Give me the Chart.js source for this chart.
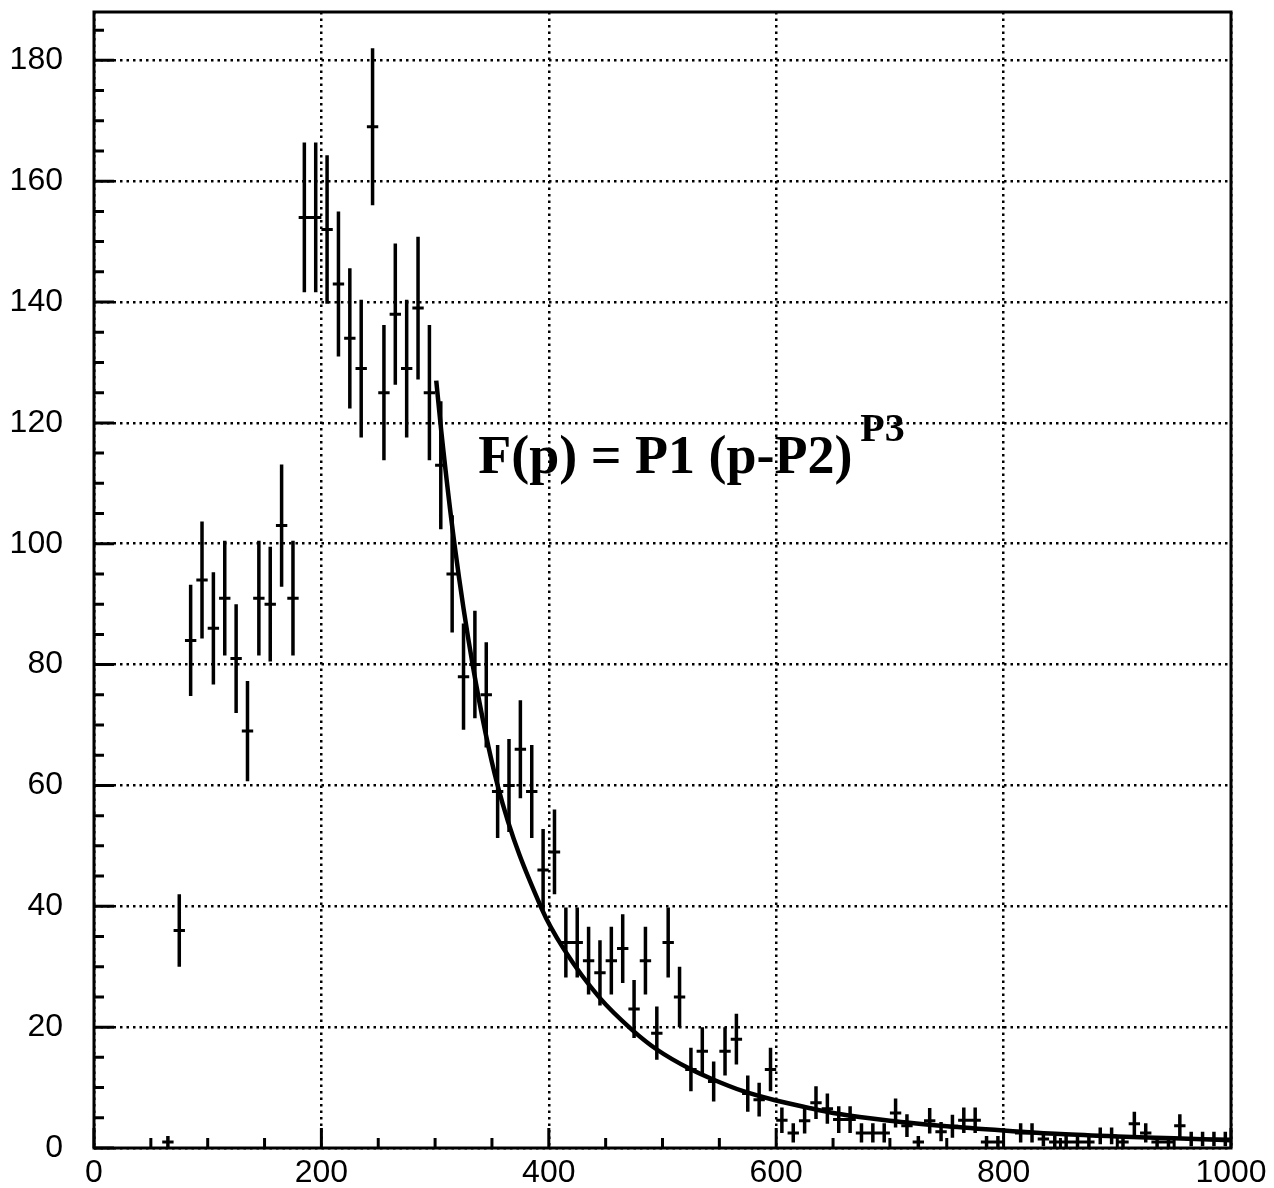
<!DOCTYPE html>
<html>
<head>
<meta charset="utf-8">
<script src="https://cdn.jsdelivr.net/npm/chart.js@4.4.0/dist/chart.umd.min.js"></script>
<style>
html,body{margin:0;padding:0;background:#fff;}
#wrap{position:relative;width:1274px;height:1188px;}
</style>
</head>
<body>
<div id="wrap"><canvas id="c"></canvas></div>
<script>
// ---- data ----
const binCenters = [65,75,85,95,105,115,125,135,145,155,165,175,
  185,195,205,215,225,235,245,255,265,275,285,295,305,315,325,335,345,355,365,375,385,395,405,
  415,425,435,445,455,465,475,485,495,505,515,525,535,545,555,565,575,585,595,
  605,615,625,635,645,655,665,675,685,695,705,715,725,735,745,755,765,775,785,795,
  815,825,835,845,855,865,875,885,895,905,915,925,935,945,955,965,975,985,995];
const counts = [1,36,84,94,86,91,81,69,91,90,103,91,
  154,154,152,143,134,129,169,125,138,129,139,125,113,95,78,80,75,59,60,66,59,46,49,
  34,34,31,29,31,33,23,31,19,34,25,13,16,11,16,18,9,8,13,
  4.6,2.5,4.5,7.5,6.5,4.7,4.7,2.5,2.5,2.5,5.8,3.7,1,4.5,2.7,3.6,4.6,4.6,1,1,
  2.5,2.5,1.5,1,1,1,1,2,2,1,4,2.5,1,1,3.7,1.5,1.5,1.5,1.5];
const errors = [1,6,9.2,9.7,9.3,9.5,9,8.3,9.5,9.5,10.1,9.5,
  12.4,12.4,12.3,12,11.6,11.4,13,11.2,11.7,11.4,11.8,11.2,10.6,9.7,8.8,8.9,8.7,7.7,7.7,8.1,7.7,6.8,7,
  5.8,5.8,5.6,5.4,5.6,5.7,4.8,5.6,4.4,5.8,5,3.6,4,3.3,4,4.2,3,2.8,3.6,
  2.1,1.6,2.1,2.7,2.5,2.2,2.2,1.6,1.6,1.6,2.4,1.9,1,2.1,1.6,1.9,2.1,2.1,1,1,
  1.6,1.6,1.2,1,1,1,1,1.4,1.4,1,2,1.6,1,1,1.9,1.2,1.2,1.2,1.2];
const binHalfWidth = 5;
const fitX = [301,305.5,317,333,355,394,414,445,473,495,524,545,571,599,627,653,700,750,800,850,900,950,1000];
const fitY = [127,118.5,100,80,60,39.5,32.7,24.8,19.6,16.3,13.1,11.3,9.4,7.9,6.7,5.7,4.5,3.6,2.9,2.3,1.9,1.6,1.3];
const xRange = [0, 1000];
const yRange = [0, 188];
const xMajorStep = 200, xMinorStep = 50;
const yMajorStep = 20, yMinorStep = 5;
const formulaMain = "F(p) = P1 (p-P2)";
const formulaExp = "P3";
const formulaMainAt = {x: 338, y: 111.7};
const formulaExpAt = {x: 674, y: 117};
const targetArea = {left: 94, top: 12, right: 1231, bottom: 1148};

// ---- build datasets ----
const vBars = [], hBars = [];
binCenters.forEach((c, i) => {
  vBars.push({x: c, y: counts[i] - errors[i]}, {x: c, y: counts[i] + errors[i]}, {x: c, y: null});
  hBars.push({x: c - binHalfWidth, y: counts[i]}, {x: c + binHalfWidth, y: counts[i]}, {x: c, y: null});
});
const fitData = fitX.map((x, i) => ({x, y: fitY[i]}));

const tickFont = {family: '"Liberation Sans", Arial, sans-serif', size: 32};

const framePlugin = {
  id: 'frameTicks',
  afterDatasetsDraw(chart) {
    const {ctx, chartArea: a, scales: {x, y}} = chart;
    ctx.save();
    ctx.strokeStyle = '#000';
    ctx.lineWidth = 3;
    ctx.beginPath();
    for (let v = xRange[0]; v <= xRange[1]; v += xMinorStep) {
      const px = x.getPixelForValue(v);
      const len = (v % xMajorStep === 0) ? 20 : 10;
      ctx.moveTo(px, a.bottom); ctx.lineTo(px, a.bottom - len);
    }
    for (let v = yRange[0]; v <= yRange[1]; v += yMinorStep) {
      const py = y.getPixelForValue(v);
      const len = (v % yMajorStep === 0) ? 20 : 10;
      ctx.moveTo(a.left, py); ctx.lineTo(a.left + len, py);
    }
    ctx.stroke();
    ctx.strokeRect(a.left, a.top, a.right - a.left, a.bottom - a.top);
    ctx.fillStyle = '#000';
    ctx.textAlign = 'left';
    ctx.textBaseline = 'alphabetic';
    ctx.font = 'bold 54px "Liberation Serif", "Times New Roman", serif';
    ctx.fillText(formulaMain, x.getPixelForValue(formulaMainAt.x), y.getPixelForValue(formulaMainAt.y));
    ctx.font = 'bold 40px "Liberation Serif", "Times New Roman", serif';
    ctx.fillText(formulaExp, x.getPixelForValue(formulaExpAt.x), y.getPixelForValue(formulaExpAt.y));
    ctx.restore();
  }
};

const chart = new Chart(document.getElementById('c'), {
  type: 'scatter',
  data: {
    datasets: [
      {data: vBars, showLine: true, spanGaps: false, borderColor: '#000', borderWidth: 3.5, pointRadius: 0, pointHoverRadius: 0, tension: 0},
      {data: hBars, showLine: true, spanGaps: false, borderColor: '#000', borderWidth: 3, pointRadius: 0, pointHoverRadius: 0, tension: 0},
      {data: fitData, showLine: true, borderColor: '#000', borderWidth: 4.5, pointRadius: 0, pointHoverRadius: 0, cubicInterpolationMode: 'monotone'}
    ]
  },
  options: {
    responsive: true,
    maintainAspectRatio: false,
    animation: false,
    devicePixelRatio: 1,
    layout: {padding: {top: 12, right: 43, left: 0, bottom: 0}},
    plugins: {legend: {display: false}, tooltip: {enabled: false}},
    scales: {
      x: {
        type: 'linear', min: xRange[0], max: xRange[1],
        afterFit: s => { s.height = 40; s.paddingLeft = 0; s.paddingRight = 0; },
        ticks: {stepSize: xMajorStep, color: '#000', font: tickFont, padding: 6, maxRotation: 0, includeBounds: false,
                callback: v => String(v)},
        grid: {color: '#000', lineWidth: 2.5, drawTicks: false},
        border: {display: false, dash: [2.5, 4]}
      },
      y: {
        type: 'linear', min: yRange[0], max: yRange[1],
        afterFit: s => { s.width = 94; s.paddingTop = 0; s.paddingBottom = 0; },
        ticks: {stepSize: yMajorStep, color: '#000', font: tickFont, padding: 31, includeBounds: false,
                callback: v => String(v)},
        grid: {color: '#000', lineWidth: 2.5, drawTicks: false},
        border: {display: false, dash: [2.5, 4]}
      }
    }
  },
  plugins: [framePlugin]
});

// nudge layout padding so the plot frame lands where the reference has it
for (let k = 0; k < 3; k++) {
  const a = chart.chartArea, p = chart.options.layout.padding;
  const dT = targetArea.top - a.top, dB = a.bottom - targetArea.bottom;
  const dL = targetArea.left - a.left, dR = a.right - targetArea.right;
  if (Math.abs(dT) < 0.5 && Math.abs(dB) < 0.5 && Math.abs(dL) < 0.5 && Math.abs(dR) < 0.5) break;
  p.top += dT; p.bottom += dB; p.left += dL; p.right += dR;
  chart.update();
}
</script>
</body>
</html>
